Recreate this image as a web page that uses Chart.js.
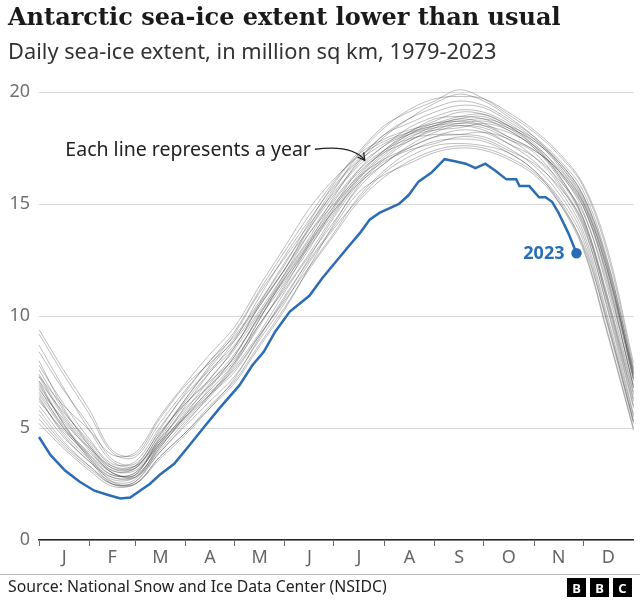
<!DOCTYPE html>
<html>
<head>
<meta charset="utf-8">
<script src="https://cdn.jsdelivr.net/npm/chart.js@4.4.0/dist/chart.umd.min.js"></script>
<style>
  body { margin: 0; background: #fff; }
  #wrap { position: relative; width: 640px; height: 600px; overflow: hidden; }
  #chart { position: absolute; left: 0; top: 0; }
  .title { position: absolute; left: 8px; top: 2px; font-family: 'DejaVu Serif', serif; font-weight: bold; font-size: 24px; color: #1a1a1a; white-space: nowrap; }
  .subtitle { position: absolute; left: 8px; top: 36px; font-family: 'Noto Sans', sans-serif; font-size: 21.8px; color: #333; white-space: nowrap; }
  .rule { position: absolute; left: 0; top: 574px; width: 640px; height: 1px; background: #bbb; }
  .source { position: absolute; left: 8px; top: 575px; font-family: 'Noto Sans', sans-serif; font-size: 15.8px; color: #222; white-space: nowrap; }
  .bbc { position: absolute; right: 8px; top: 578px; display: flex; gap: 4px; }
  .bbc span { width: 19px; height: 19px; background: #000; color: #fff; font: bold 13px 'Noto Sans', sans-serif; display: flex; align-items: center; justify-content: center; }
</style>
</head>
<body>
<div id="wrap">
  <canvas id="chart" width="640" height="600"></canvas>
  <div class="title">Antarctic sea-ice extent lower than usual</div>
  <div class="subtitle">Daily sea-ice extent, in million sq km, 1979-2023</div>
  <div class="rule"></div>
  <div class="source">Source: National Snow and Ice Data Center (NSIDC)</div>
  <div class="bbc"><span>B</span><span>B</span><span>C</span></div>
</div>
<script>
// day of year for the sampled points of the past years
const days = [0, 15, 31, 45, 59, 74, 90, 105, 120, 135, 151, 166, 181, 196, 212, 227, 243, 258, 273, 288, 304, 319, 334, 349, 365];

// 1979-2022, each line one year
const pastYears = [
  [9.2, 7.4, 5.6, 3.9, 3.7, 5.2, 6.7, 8.0, 9.3, 11.1, 12.9, 14.5, 16.0, 17.3, 18.5, 19.1, 19.6, 20.1, 19.7, 19.0, 18.2, 17.2, 15.8, 12.8, 7.7],
  [5.2, 4.1, 3.1, 2.4, 2.5, 3.7, 4.8, 6.0, 7.1, 8.7, 10.4, 12.1, 13.6, 15.1, 16.2, 16.9, 17.4, 17.6, 17.5, 17.1, 16.4, 15.2, 13.1, 9.3, 5.0],
  [7.6, 5.8, 4.3, 3.2, 3.2, 4.7, 6.2, 7.5, 8.6, 10.5, 12.4, 13.9, 15.4, 16.7, 17.6, 18.4, 18.9, 19.2, 19.1, 18.6, 17.8, 16.9, 15.4, 12.3, 7.2],
  [6.3, 4.8, 3.6, 2.8, 2.8, 4.0, 5.3, 6.4, 7.7, 9.2, 11.1, 12.7, 14.2, 15.7, 16.8, 17.5, 18.0, 18.1, 18.2, 17.9, 17.1, 15.9, 14.0, 10.4, 5.9],
  [7.0, 5.2, 3.8, 2.9, 3.0, 4.4, 5.9, 6.9, 8.0, 9.8, 11.8, 13.4, 14.9, 16.1, 17.2, 18.0, 18.3, 18.4, 18.6, 18.3, 17.5, 16.3, 14.4, 10.9, 6.5],
  [6.7, 5.4, 4.0, 3.0, 2.9, 4.1, 5.6, 7.0, 8.3, 9.9, 11.5, 13.3, 15.1, 16.4, 17.3, 17.8, 18.4, 18.7, 18.5, 18.0, 17.4, 16.5, 14.9, 11.6, 6.8],
  [8.4, 6.7, 5.1, 3.6, 3.4, 4.8, 6.1, 7.1, 8.1, 9.6, 11.3, 13.2, 14.9, 16.5, 17.6, 18.1, 18.4, 18.5, 18.3, 17.7, 16.9, 15.7, 13.8, 10.0, 5.5],
  [5.6, 4.3, 3.3, 2.6, 2.7, 4.3, 6.0, 7.5, 8.9, 10.8, 12.7, 14.3, 15.8, 17.0, 18.1, 18.6, 19.1, 19.4, 19.3, 18.7, 17.9, 16.7, 15.1, 12.0, 7.1],
  [7.3, 6.0, 4.9, 3.8, 3.9, 5.5, 7.0, 8.3, 9.5, 11.3, 13.1, 14.8, 16.1, 17.1, 17.8, 18.2, 18.5, 18.8, 18.6, 18.0, 17.4, 16.5, 15.0, 11.7, 6.8],
  [7.1, 5.2, 3.6, 2.5, 2.5, 3.7, 4.8, 5.9, 7.0, 8.6, 10.3, 12.2, 14.1, 15.8, 17.0, 17.8, 18.3, 18.6, 18.5, 18.2, 17.6, 16.6, 15.1, 12.0, 7.4],
  [6.0, 4.6, 3.5, 2.7, 2.8, 4.2, 5.7, 6.9, 8.2, 10.0, 11.9, 13.7, 15.2, 16.5, 17.4, 17.9, 18.1, 18.1, 18.0, 17.5, 16.7, 15.5, 13.6, 9.8, 5.3],
  [7.8, 6.1, 4.5, 3.4, 3.5, 5.0, 6.5, 7.6, 8.7, 10.2, 11.9, 13.5, 15.3, 16.9, 18.1, 18.8, 19.3, 19.6, 19.4, 18.8, 18.0, 17.0, 15.6, 12.5, 7.5],
  [6.5, 5.0, 3.9, 3.1, 3.1, 4.2, 5.4, 6.5, 7.8, 9.6, 11.2, 12.8, 14.5, 16.0, 16.9, 17.4, 17.7, 18.0, 17.9, 17.4, 16.8, 15.8, 14.2, 10.7, 6.2],
  [7.3, 5.5, 4.1, 3.0, 2.9, 4.5, 6.1, 7.2, 8.6, 10.4, 12.1, 14.0, 15.7, 16.9, 17.7, 18.2, 18.8, 18.9, 18.8, 18.3, 17.5, 16.2, 14.3, 10.6, 6.0],
  [5.8, 4.4, 3.3, 2.5, 2.6, 3.9, 5.1, 6.2, 7.3, 8.9, 10.6, 12.4, 13.9, 15.2, 16.4, 17.1, 17.6, 17.7, 17.6, 17.3, 16.5, 15.3, 13.4, 9.6, 5.2],
  [6.9, 5.3, 4.1, 3.3, 3.3, 4.5, 5.8, 7.2, 8.5, 10.1, 11.7, 13.2, 14.7, 16.2, 17.4, 18.2, 18.7, 19.1, 19.0, 18.5, 17.7, 16.5, 14.7, 11.2, 6.6],
  [6.4, 4.7, 3.5, 2.8, 2.9, 4.6, 6.3, 7.7, 9.0, 10.5, 12.1, 13.7, 15.0, 16.2, 17.0, 17.5, 18.0, 18.3, 18.2, 17.7, 17.1, 16.1, 14.6, 11.4, 6.9],
  [8.7, 6.8, 4.9, 3.5, 3.3, 4.4, 5.5, 6.5, 7.5, 9.1, 10.8, 12.6, 14.4, 15.9, 17.1, 17.9, 18.5, 18.8, 18.9, 18.4, 17.6, 16.4, 14.9, 11.8, 7.2],
  [5.4, 4.2, 3.2, 2.5, 2.6, 4.1, 5.5, 6.6, 7.6, 9.1, 10.7, 12.2, 13.7, 15.3, 16.5, 17.3, 17.8, 17.9, 17.8, 17.3, 16.5, 15.1, 13.0, 9.2, 4.9],
  [7.4, 5.6, 4.2, 3.1, 3.2, 4.7, 6.3, 7.8, 9.2, 11.0, 12.6, 14.1, 15.5, 16.8, 18.0, 18.8, 19.5, 19.9, 19.6, 18.9, 18.0, 16.8, 15.2, 12.1, 7.3],
  [6.8, 5.0, 3.7, 2.9, 3.0, 4.3, 5.6, 6.7, 7.9, 9.5, 11.4, 13.0, 14.8, 16.3, 17.4, 18.1, 18.5, 18.6, 18.7, 18.4, 17.8, 16.8, 15.3, 12.2, 7.4],
  [8.0, 5.9, 4.2, 3.2, 3.3, 4.9, 6.6, 8.0, 9.1, 10.6, 12.3, 14.2, 15.9, 17.2, 17.9, 18.3, 18.6, 18.9, 19.0, 18.5, 17.6, 16.3, 14.4, 10.8, 6.3],
  [6.2, 4.9, 3.8, 3.0, 2.8, 3.9, 5.2, 6.5, 7.9, 9.8, 11.7, 13.3, 14.7, 15.9, 16.8, 17.6, 18.2, 18.5, 18.4, 17.9, 17.3, 16.0, 14.1, 10.3, 5.6],
  [7.1, 5.7, 4.4, 3.3, 3.2, 4.3, 5.5, 6.8, 8.2, 10.0, 11.6, 13.1, 14.6, 16.1, 17.3, 18.1, 18.6, 18.7, 18.8, 18.5, 17.9, 16.9, 15.4, 12.4, 7.6],
  [9.4, 7.6, 5.8, 4.0, 3.8, 5.4, 6.9, 7.9, 8.9, 10.4, 12.1, 13.9, 15.6, 17.2, 18.4, 19.2, 19.7, 19.8, 19.7, 19.1, 18.3, 17.3, 15.9, 13.0, 7.9],
  [6.6, 5.1, 3.7, 2.6, 2.5, 3.6, 4.7, 5.9, 7.2, 9.0, 10.9, 12.5, 14.0, 15.5, 16.3, 16.8, 17.3, 17.5, 17.4, 17.0, 16.3, 15.1, 13.2, 9.7, 5.3]
];

// 2023, up to late November
const days2023 = [0, 7, 16, 25, 34, 43, 50, 56, 62, 68, 74, 83, 92, 102, 111, 123, 131, 138, 145, 154, 166, 174, 182, 190, 197, 203, 209, 215, 221, 227, 233, 241, 249, 256, 262, 268, 274, 280, 287, 293, 295, 301, 307, 311, 315, 319, 325, 330];
const extent2023 = [4.6, 3.8, 3.1, 2.6, 2.2, 2.0, 1.85, 1.9, 2.2, 2.5, 2.9, 3.4, 4.2, 5.1, 5.9, 6.9, 7.8, 8.4, 9.3, 10.2, 10.9, 11.7, 12.4, 13.1, 13.7, 14.3, 14.6, 14.8, 15.0, 15.4, 16.0, 16.4, 17.0, 16.9, 16.8, 16.6, 16.8, 16.5, 16.1, 16.1, 15.8, 15.8, 15.3, 15.3, 15.1, 14.6, 13.7, 12.8];

const yTicks = [0, 5, 10, 15, 20];
const monthStarts = [0, 31, 59, 90, 120, 151, 181, 212, 243, 273, 304, 334];
const monthMids = [15.5, 45, 74.5, 105, 135.5, 166, 196.5, 227.5, 258, 288.5, 319, 349.5];
const monthLabels = ['J', 'F', 'M', 'A', 'M', 'J', 'J', 'A', 'S', 'O', 'N', 'D'];

const blue = '#2a6db5';

// starts and mid-months interleaved: even index = tick mark, odd = label
const xTicks = [];
monthStarts.forEach((s, i) => { xTicks.push(s); xTicks.push(monthMids[i]); });

const datasets = [{
  label: '2023',
  data: days2023.map((d, i) => ({ x: d, y: extent2023[i] })),
  borderColor: blue,
  backgroundColor: blue,
  borderWidth: 2.5,
  pointRadius: days2023.map((d, i) => i === days2023.length - 1 ? 4 : 0),
  tension: 0,
  clip: false
}];

pastYears.forEach((vals, k) => {
  datasets.push({
    label: String(1979 + k),
    data: days.map((d, i) => ({ x: d, y: vals[i] })),
    borderColor: 'rgba(40,40,40,0.3)',
    borderWidth: 1,
    pointRadius: 0,
    tension: 0.35,
    clip: false
  });
});

const notes = {
  id: 'notes',
  afterDraw(chart) {
    const ctx = chart.ctx;
    const x = chart.scales.x, y = chart.scales.y;
    ctx.save();

    // "Each line represents a year" with curved arrow
    const tx = x.getPixelForValue(170), ty = y.getPixelForValue(17.4);
    ctx.font = "19.5px 'Noto Sans', sans-serif";
    ctx.fillStyle = '#222';
    ctx.textAlign = 'right';
    ctx.textBaseline = 'middle';
    ctx.fillText('Each line represents a year', tx - 5, ty);

    const ax = x.getPixelForValue(200), ay = y.getPixelForValue(16.95);
    ctx.strokeStyle = '#222';
    ctx.lineWidth = 1.3;
    ctx.beginPath();
    ctx.moveTo(tx - 1, ty - 1);
    ctx.quadraticCurveTo(ax - 12, ty - 6, ax, ay);
    ctx.stroke();
    const ang = Math.atan2(ay - (ty - 6), 12);
    ctx.beginPath();
    ctx.moveTo(ax - 8 * Math.cos(ang - 0.5), ay - 8 * Math.sin(ang - 0.5));
    ctx.lineTo(ax, ay);
    ctx.lineTo(ax - 8 * Math.cos(ang + 0.5), ay - 8 * Math.sin(ang + 0.5));
    ctx.stroke();

    // 2023 label at end of line
    const last = days2023.length - 1;
    const lx = x.getPixelForValue(days2023[last]), ly = y.getPixelForValue(extent2023[last]);
    ctx.font = "bold 18px 'Noto Sans', sans-serif";
    ctx.fillStyle = blue;
    ctx.textAlign = 'right';
    ctx.fillText('2023', lx - 12, ly + 1);
    ctx.restore();
  }
};

Chart.defaults.font.family = "'Noto Sans', sans-serif";

new Chart(document.getElementById('chart'), {
  type: 'line',
  data: { datasets: datasets },
  options: {
    responsive: false,
    animation: false,
    layout: { padding: { top: 92, right: 5, bottom: 30, left: 0 } },
    plugins: { legend: { display: false }, tooltip: { enabled: false } },
    scales: {
      x: {
        type: 'linear',
        min: 0,
        max: 365,
        afterBuildTicks: scale => { scale.ticks = xTicks.map(v => ({ value: v })); },
        afterFit: scale => { scale.height = 30; },
        grid: {
          drawOnChartArea: false,
          tickLength: 6,
          color: ctx => ctx.index % 2 === 0 ? '#666' : 'rgba(0,0,0,0)'
        },
        border: { display: true, color: '#222', width: 1.5 },
        ticks: {
          autoSkip: false,
          maxRotation: 0,
          padding: 1,
          color: '#666',
          font: { size: 18 },
          callback: (value, index) => index % 2 === 1 ? monthLabels[(index - 1) / 2] : ''
        }
      },
      y: {
        min: 0,
        max: 20,
        afterBuildTicks: scale => { scale.ticks = yTicks.map(v => ({ value: v })); },
        afterFit: scale => { scale.width = 39; },
        grid: { color: '#d9d9d9', drawTicks: false },
        border: { display: false },
        ticks: { color: '#707070', font: { size: 18 }, padding: 9 }
      }
    }
  },
  plugins: [notes]
});
</script>
</body>
</html>
